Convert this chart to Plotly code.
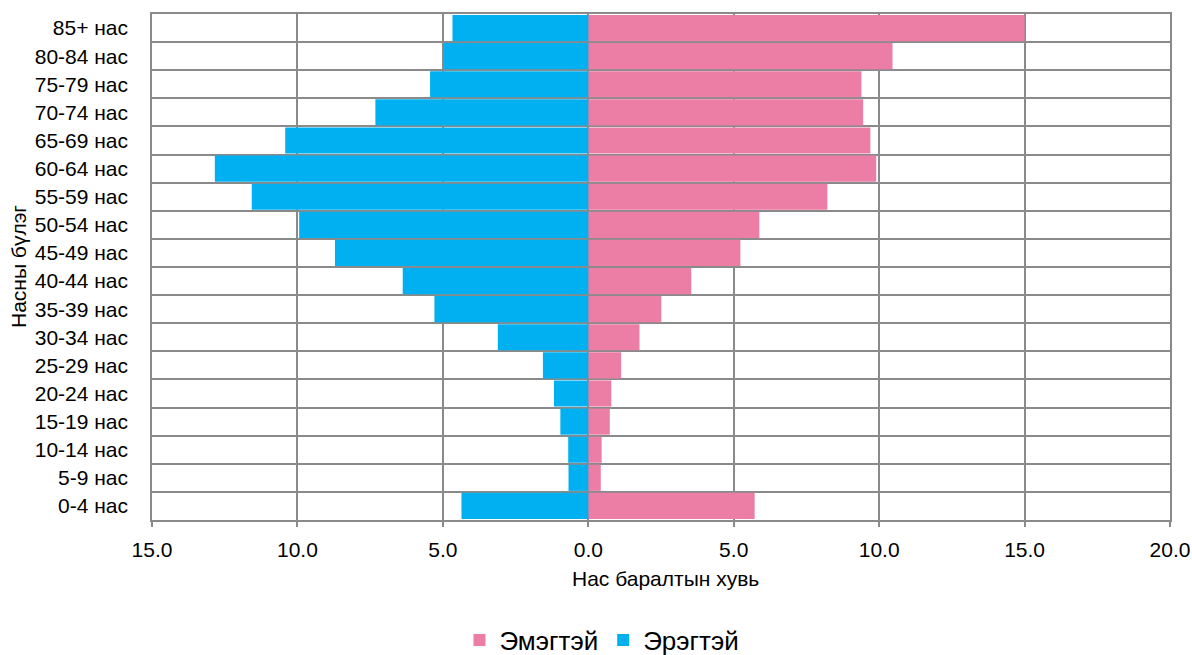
import plotly.graph_objects as go

age_groups = ["0-4 нас", "5-9 нас", "10-14 нас", "15-19 нас", "20-24 нас", "25-29 нас",
              "30-34 нас", "35-39 нас", "40-44 нас", "45-49 нас", "50-54 нас", "55-59 нас",
              "60-64 нас", "65-69 нас", "70-74 нас", "75-79 нас", "80-84 нас", "85+ нас"]
female = [5.72, 0.43, 0.46, 0.74, 0.79, 1.13, 1.76, 2.51, 3.54, 5.23, 5.88, 8.22,
          9.90, 9.70, 9.45, 9.39, 10.46, 15.0]
male = [4.36, 0.68, 0.69, 0.96, 1.18, 1.56, 3.11, 5.29, 6.38, 8.71, 9.94, 11.57,
        12.84, 10.42, 7.32, 5.44, 4.97, 4.67]
male_neg = [-v for v in male]

tick_vals = [-15, -10, -5, 0, 5, 10, 15, 20]
tick_text = ["15.0", "10.0", "5.0", "0.0", "5.0", "10.0", "15.0", "20.0"]

PINK = "#EC7EA6"
BLUE = "#00B0F0"
GRID = "#8A8A8A"
FONT = "Liberation Sans, Arial, sans-serif"

fig = go.Figure()
fig.add_trace(go.Bar(y=age_groups, x=female, orientation="h", name="Эмэгтэй",
                     marker=dict(color=PINK, line=dict(width=0))))
fig.add_trace(go.Bar(y=age_groups, x=male_neg, orientation="h", name="Эрэгтэй",
                     marker=dict(color=BLUE, line=dict(width=0))))

fig.update_layout(
    width=1192, height=655,
    margin=dict(l=152, r=22, t=14, b=135, autoexpand=False),
    barmode="relative",
    bargap=0.07,
    plot_bgcolor="white",
    paper_bgcolor="white",
    font=dict(family=FONT, size=21, color="black"),
    showlegend=True,
    legend=dict(orientation="h", xref="container", x=0.505, xanchor="center",
                yref="paper", y=(520 - 640) / 506, yanchor="middle",
                font=dict(size=26), traceorder="normal", itemwidth=30),
    xaxis=dict(range=[-15, 20], tickvals=tick_vals, ticktext=tick_text,
               automargin=False,
               showgrid=True, gridcolor=GRID, gridwidth=1.5,
               showline=True, linecolor=GRID, linewidth=1.5, mirror=True,
               ticks="outside", ticklen=5, tickcolor=GRID, tickwidth=1.5,
               zeroline=True, zerolinecolor=GRID, zerolinewidth=1.5,
               tickfont=dict(size=21), ticklabelstandoff=5),
    yaxis=dict(type="category", categoryorder="array", categoryarray=age_groups,
               automargin=False,
               tickson="boundaries", showgrid=True, gridcolor=GRID, gridwidth=1.5,
               showline=True, linecolor=GRID, linewidth=1.5, mirror=True,
               ticks="", tickfont=dict(size=21), ticklabelstandoff=18),
    annotations=[
        dict(text="Насны бүлэг", xref="paper", yref="paper",
             x=(18 - 152) / 1018, y=0.5, textangle=-90, showarrow=False,
             xanchor="center", yanchor="middle", font=dict(size=21)),
        dict(text="Нас баралтын хувь", xref="paper", yref="paper",
             x=(665 - 152) / 1018, y=(520 - 578) / 506, showarrow=False,
             xanchor="center", yanchor="middle", font=dict(size=21)),
    ],
)

fig.write_html(
    "out.html",
    config={"displayModeBar": False},
    post_script="document.body.style.margin='0';document.body.style.overflow='hidden';",
)
